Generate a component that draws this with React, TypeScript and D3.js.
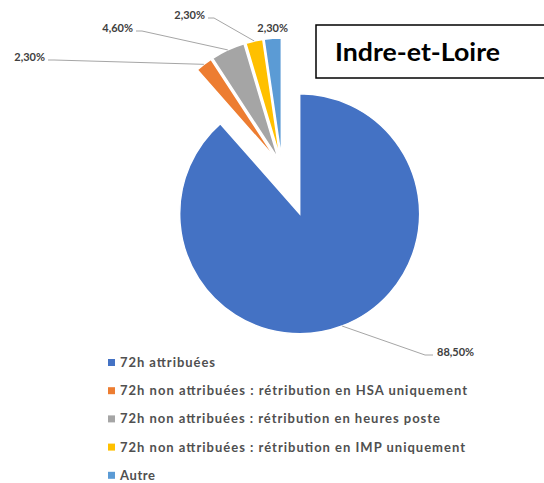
import React, { useEffect, useRef } from 'react';
import * as d3 from 'd3';

// chart data
const categories = [
  '72h attribuées',
  '72h non attribuées : rétribution en HSA uniquement',
  '72h non attribuées : rétribution en heures poste',
  '72h non attribuées : rétribution en IMP uniquement',
  'Autre',
];
const values = [88.5, 2.3, 4.6, 2.3, 2.3];
const colors = ['#4472c4', '#ed7d31', '#a5a5a5', '#ffc000', '#5b9bd5'];
const title = 'Indre-et-Loire';

const W = 544;
const H = 483;

const App = () => {
  const svgRef = useRef<SVGSVGElement>(null);

  useEffect(() => {
    const svg = d3.select(svgRef.current);
    svg.selectAll('*').remove();

    svg.append('rect').attr('width', W).attr('height', H).attr('fill', '#fff');

    const cx = 282, cy = 167, r = 120;
    const explode = (i: number) => (i === 0 ? 50 : 9);

    const pie = d3.pie<number>().sort(null).value(d => d);
    const arcs = pie(values);
    const arc = d3.arc<d3.PieArcDatum<number>>().innerRadius(0).outerRadius(r);

    const fmt = (v: number) => d3.format('.2f')(v).replace('.', ',') + '%';

    const offset = (a: d3.PieArcDatum<number>, d: number) => {
      const mid = (a.startAngle + a.endAngle) / 2;
      return [Math.sin(mid) * d, -Math.cos(mid) * d];
    };

    const g = svg.append('g').attr('transform', `translate(${cx},${cy})`);

    g.selectAll('path.slice')
      .data(arcs)
      .enter().append('path')
      .attr('class', 'slice')
      .attr('d', arc)
      .attr('fill', (_, i) => colors[i])
      .attr('stroke', '#fff')
      .attr('stroke-width', 1.5)
      .attr('transform', (a, i) => {
        const [dx, dy] = offset(a, explode(i));
        return `translate(${dx},${dy})`;
      });

    // data labels (anchor positions)
    const labelPos = [
      { x: 437, y: 352, anchor: 'start' },
      { x: 45, y: 57, anchor: 'end' },
      { x: 133, y: 28, anchor: 'end' },
      { x: 205, y: 15, anchor: 'end' },
      { x: 288, y: 28, anchor: 'end' },
    ];

    arcs.forEach((a, i) => {
      const p = labelPos[i];
      const [ox, oy] = offset(a, explode(i) + r);
      const tx = cx + ox, ty = cy + oy;
      if (i !== 4) {
        const sx = p.anchor === 'start' ? p.x - 4 : p.x + 3;
        const hx = p.anchor === 'start' ? sx - 8 : sx + 6;
        svg.append('polyline')
          .attr('points', `${sx},${p.y + 3} ${hx},${p.y + 3} ${tx},${ty}`)
          .attr('fill', 'none')
          .attr('stroke', '#a6a6a6')
          .attr('stroke-width', 1);
      }
      svg.append('text')
        .attr('x', p.x)
        .attr('y', p.y)
        .attr('dy', '0.35em')
        .attr('text-anchor', p.anchor)
        .attr('font-family', 'Lato, sans-serif')
        .attr('font-weight', 'bold')
        .attr('font-size', 11)
        .attr('fill', '#404040')
        .text(fmt(values[i]));
    });

    // title box
    svg.append('rect')
      .attr('x', 316).attr('y', 25)
      .attr('width', 240).attr('height', 53)
      .attr('fill', '#fff')
      .attr('stroke', '#000')
      .attr('stroke-width', 1.5);
    svg.append('text')
      .attr('x', 335).attr('y', 61)
      .attr('font-family', 'Lato, sans-serif')
      .attr('font-weight', 'bold')
      .attr('font-size', 25)
      .attr('textLength', 165)
      .attr('lengthAdjust', 'spacingAndGlyphs')
      .attr('fill', '#000')
      .text(title);

    // legend
    const legendWidths = [95, 347, 320, 345, 35];
    const leg = svg.append('g');
    categories.forEach((c, i) => {
      const y = 362.5 + i * 28.2;
      leg.append('rect')
        .attr('x', 108).attr('y', y - 3.5)
        .attr('width', 7).attr('height', 7)
        .attr('fill', colors[i]);
      leg.append('text')
        .attr('x', 120).attr('y', y)
        .attr('dy', '0.35em')
        .attr('font-family', 'Lato, sans-serif')
        .attr('font-weight', 'bold')
        .attr('font-size', 13)
        .attr('textLength', legendWidths[i])
        .attr('lengthAdjust', 'spacing')
        .attr('fill', '#505050')
        .text(c);
    });
  }, []);

  return (
    <svg
      ref={svgRef}
      width={W}
      height={H}
      style={{ position: 'absolute', left: 0, top: 0 }}
    />
  );
};

export default App;
